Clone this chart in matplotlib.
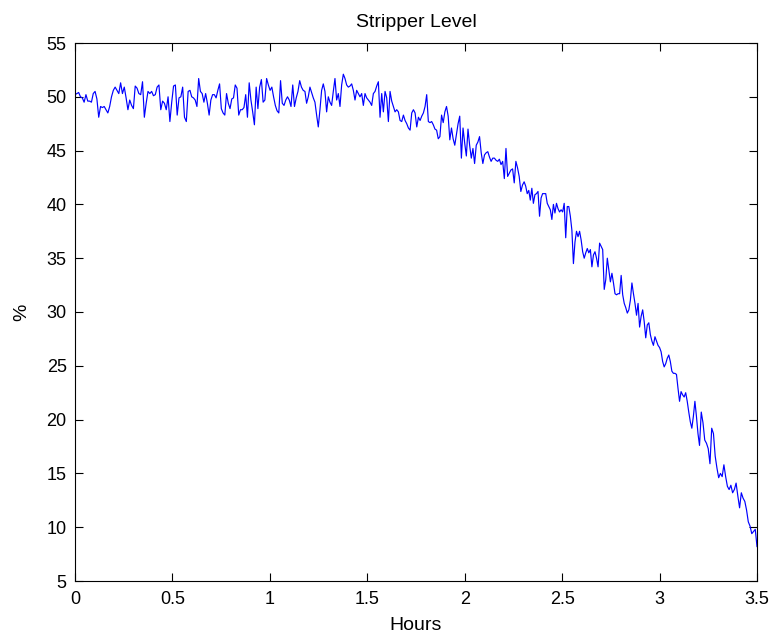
import numpy as np
import matplotlib
matplotlib.use('Agg')
import matplotlib.pyplot as plt

# Stripper level readings (%) in consecutive stretches.
# seg_edges gives the start/end hour of each stretch.
seg_edges = [0.0, 0.59, 1.18, 1.771, 2.305, 2.795, 3.205, 3.5]

level_a = [50.2, 50.3, 50.4, 50.0, 49.9, 49.5, 50.2, 49.6, 49.6, 49.5, 50.3, 50.5,
           49.8, 48.1, 49.1, 49.0, 49.1, 48.8, 48.5, 49.1, 50.0, 50.6, 50.9, 50.6,
           50.3, 51.3, 50.3, 50.9, 49.9, 48.8, 49.7, 49.2, 48.9, 51.0, 50.8, 50.3,
           50.2, 51.4, 48.1, 49.4, 50.5, 50.3, 50.5, 50.1, 50.2, 50.9, 51.1, 48.8,
           49.6, 49.4, 48.8, 50.0, 47.7, 49.5, 51.0, 51.1, 48.3, 49.9, 50.0, 50.9,
           48.1, 47.7, 50.5]
level_b = [50.6, 50.0, 49.9, 49.7, 49.1, 51.7, 50.5, 50.3, 49.5, 50.3, 49.4, 48.3,
           49.7, 50.2, 50.2, 49.9, 50.6, 51.2, 48.9, 48.5, 48.3, 50.3, 49.4, 48.9,
           49.8, 49.9, 51.1, 50.8, 48.3, 48.8, 48.8, 49.0, 50.2, 48.1, 51.3, 49.7,
           48.6, 47.4, 50.9, 48.9, 50.9, 51.6, 49.5, 49.7, 51.7, 51.1, 50.6, 50.9,
           50.0, 49.2, 48.7, 48.5, 51.5, 49.4, 49.2, 49.7, 50.0, 49.7, 49.1, 51.1,
           49.1, 49.9, 50.5, 51.5, 50.9, 50.6]
level_c = [50.5, 49.4, 50.0, 50.9, 50.4, 49.9, 49.5, 48.3, 47.2, 48.8, 50.6, 51.2,
           50.5, 48.6, 50.0, 49.5, 49.2, 50.5, 51.7, 49.7, 50.3, 49.1, 51.1, 52.1,
           51.7, 51.1, 50.9, 51.0, 51.2, 50.6, 49.7, 50.6, 50.3, 50.0, 50.3, 49.2,
           50.3, 49.9, 49.7, 49.5, 49.2, 50.3, 50.5, 51.0, 51.4, 48.1, 50.3, 48.6,
           50.5, 49.9, 47.7, 50.5, 49.6, 49.1, 48.6, 48.8, 48.6, 47.8, 47.7, 48.3,
           47.8, 47.5, 47.1, 46.9, 48.5, 48.8, 48.5, 47.2, 48.1]
level_d = [47.8, 48.2, 48.5, 49.1, 50.2, 47.7, 47.6, 47.7, 47.4, 47.0, 46.9, 46.1,
           46.3, 48.3, 47.6, 48.6, 49.1, 48.2, 46.0, 47.1, 46.1, 45.5, 46.5, 47.5,
           48.2, 44.3, 47.1, 45.7, 44.5, 47.0, 45.5, 44.3, 45.2, 43.8, 45.5, 45.8,
           46.3, 44.8, 43.8, 44.6, 44.8, 44.9, 44.4, 44.0, 44.3, 44.3, 44.1, 44.0,
           44.2, 43.7, 44.0, 42.4, 45.2, 42.6, 42.9, 43.2, 43.3, 42.0, 44.0, 43.4,
           42.6, 41.2, 41.8]
level_e = [42.1, 41.7, 41.0, 41.3, 40.4, 41.5, 40.1, 40.9, 41.0, 41.2, 38.9, 40.6,
           41.0, 41.0, 41.0, 40.1, 39.8, 39.5, 38.6, 40.0, 39.2, 40.1, 39.6, 39.3,
           39.5, 39.3, 40.1, 36.9, 39.8, 39.8, 38.9, 37.6, 34.5, 36.5, 37.5, 37.0,
           37.5, 36.7, 35.6, 35.0, 35.5, 35.9, 35.5, 35.8, 34.2, 35.3, 35.6, 35.0,
           34.2, 36.4, 36.1, 35.8, 32.1, 33.0, 35.0, 33.9, 32.8, 33.6, 32.7, 31.7,
           31.6, 31.7]
level_f = [31.7, 33.4, 31.6, 30.8, 30.4, 29.9, 30.2, 31.1, 32.7, 31.7, 30.8, 29.7,
           30.8, 28.6, 29.6, 30.2, 29.1, 27.6, 28.8, 29.0, 27.9, 27.3, 26.9, 27.7,
           27.3, 26.9, 26.7, 26.3, 25.4, 24.9, 25.2, 25.7, 26.0, 25.4, 24.5, 24.3,
           24.3, 24.2, 22.9, 21.7, 22.6, 22.3, 22.1, 22.5, 21.7, 20.7, 19.8, 19.2,
           20.3, 21.7, 20.3, 18.7]
level_g = [17.6, 20.7, 19.7, 18.1, 17.8, 17.3, 15.9, 19.2, 18.7, 16.6, 15.5, 14.6,
           15.0, 14.7, 15.8, 14.7, 13.8, 13.5, 13.9, 13.2, 13.5, 14.1, 12.9, 11.8,
           13.2, 12.7, 12.4, 11.6, 10.5, 10.1, 9.4, 9.6, 9.8, 8.2]

segments = [level_a, level_b, level_c, level_d, level_e, level_f, level_g]

hours = []
for i, seg in enumerate(segments):
    last = i == len(segments) - 1
    hours.append(np.linspace(seg_edges[i], seg_edges[i + 1], len(seg), endpoint=last))
hours = np.concatenate(hours)
level = np.concatenate(segments)

plt.rcParams.update({
    'font.family':      'Liberation Sans',
    'font.size':        13,
    'axes.linewidth':   0.8,
    'xtick.direction':  'in',
    'ytick.direction':  'in',
    'xtick.top':        True,
    'ytick.right':      True,
    'xtick.major.size': 6,
    'ytick.major.size': 6,
})

fig = plt.figure(figsize=(7.74, 6.39), dpi=100)
ax = fig.add_axes([75 / 774, 1 - 581 / 639, 682 / 774, 538 / 639])

ax.plot(hours, level, color='#0000ff', linewidth=0.85)

ax.set_xlim(0, 3.5)
ax.set_ylim(5, 55)
ax.set_xticks(np.arange(0, 3.51, 0.5))
ax.set_xticklabels(['0', '0.5', '1', '1.5', '2', '2.5', '3', '3.5'])
ax.set_yticks(np.arange(5, 56, 5))
ax.tick_params(axis='x', pad=7)
ax.tick_params(axis='y', pad=6)
ax.set_title('Stripper Level', fontsize=14, pad=11.5)
ax.set_xlabel('Hours', fontsize=14, labelpad=7)
ax.set_ylabel('%', fontsize=14, labelpad=12)

fig.savefig('out.png', dpi=100, facecolor='white')
plt.close(fig)
